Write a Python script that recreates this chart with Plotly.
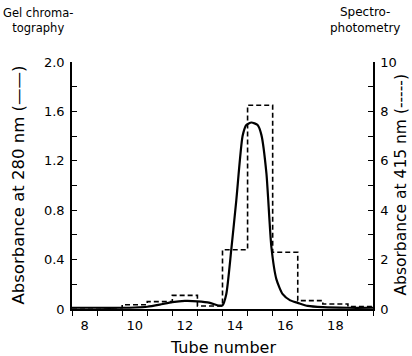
import plotly.graph_objects as go

# Gel chromatography, absorbance at 280 nm (solid curve, left axis)
tube_280 = [7.5, 8.5, 9.5, 10.0, 10.5, 11.0, 11.5, 12.0, 12.5, 13.0, 13.35, 13.5, 13.65,
            13.85, 14.05, 14.3, 14.45, 14.65, 14.9, 15.05, 15.25, 15.45, 15.65, 15.9,
            16.2, 16.5, 16.9, 17.5, 18.5, 19.5]
a280 = [0.01, 0.01, 0.01, 0.012, 0.018, 0.035, 0.055, 0.065, 0.062, 0.05, 0.028, 0.03, 0.12,
        0.48, 0.88, 1.40, 1.49, 1.51, 1.49, 1.41, 1.10, 0.50, 0.24, 0.12,
        0.07, 0.05, 0.025, 0.015, 0.01, 0.01]

# Spectrophotometry, absorbance at 415 nm per tube (dashed steps, right axis)
tubes_415 = [8, 9, 10, 11, 12, 13, 14, 15, 16, 17, 18, 19]
a415 = [0.05, 0.05, 0.17, 0.3, 0.55, 0.12, 2.4, 8.25, 2.3, 0.34, 0.2, 0.1]

x_ticks = [8, 10, 12, 14, 16, 18]
left_ticks = [0, 0.4, 0.8, 1.2, 1.6, 2.0]
left_labels = ["0", "0.4", "0.8", "1.2", "1.6", "2.0"]
right_ticks = [0, 2, 4, 6, 8, 10]

# build step edges from tube centers
edges = [t - 0.5 for t in tubes_415] + [tubes_415[-1] + 0.5]
step_vals = a415 + [a415[-1]]

FONT = "DejaVu Sans"

fig = go.Figure()
fig.add_trace(go.Scatter(x=edges, y=step_vals, mode="lines", yaxis="y2",
                         line=dict(color="black", width=1.6, dash="5px,3px", shape="hv"),
                         showlegend=False, hoverinfo="skip"))
fig.add_trace(go.Scatter(x=tube_280, y=a280, mode="lines",
                         line=dict(color="black", width=2.2, shape="spline", smoothing=0.6),
                         showlegend=False, hoverinfo="skip"))

fig.update_layout(
    width=412, height=356,
    margin=dict(l=72, r=39, t=62, b=47),
    paper_bgcolor="white", plot_bgcolor="white",
    font=dict(family=FONT, color="black", size=13),
    xaxis=dict(range=[7.5, 19.5], showgrid=False, zeroline=False,
               showline=True, linecolor="black", linewidth=1.5,
               tickmode="array", tickvals=x_ticks, ticktext=[str(v) for v in x_ticks],
               ticks="", tickfont=dict(size=13), ticklabelstandoff=4,
               minor=dict(tickmode="linear", tick0=7.5, dtick=1, ticks="outside",
                          ticklen=5, tickwidth=1.2, tickcolor="black")),
    yaxis=dict(range=[0, 2.0], showgrid=False, zeroline=False,
               showline=True, linecolor="black", linewidth=1.5,
               tickmode="array", tickvals=left_ticks, ticktext=left_labels,
               ticks="inside", ticklen=5, tickwidth=1.2, tickcolor="black",
               tickfont=dict(size=13), ticklabelstandoff=3,
               minor=dict(tickmode="linear", tick0=0, dtick=0.2, ticks="inside",
                          ticklen=5, tickwidth=1.2, tickcolor="black")),
    yaxis2=dict(range=[0, 10], overlaying="y", side="right", showgrid=False, zeroline=False,
                showline=True, linecolor="black", linewidth=1.5,
                tickmode="array", tickvals=right_ticks, ticktext=[str(v) for v in right_ticks],
                ticks="inside", ticklen=5, tickwidth=1.2, tickcolor="black",
                tickfont=dict(size=13), ticklabelstandoff=3,
                minor=dict(tickmode="linear", tick0=0, dtick=1, ticks="inside",
                           ticklen=5, tickwidth=1.2, tickcolor="black")),
)

annos = [
    dict(text="Tube number", x=0.5, y=0, xref="paper", yref="paper",
         yshift=-38, xanchor="center", yanchor="middle", font=dict(size=16)),
    dict(text="Absorbance at 280 nm (——)", x=0, y=0.5, xref="paper", yref="paper",
         xshift=-54, textangle=-90, xanchor="center", yanchor="middle", font=dict(size=16.5)),
    dict(text="Absorbance at 415 nm (-----)", x=1, y=0.5, xref="paper", yref="paper",
         xshift=27, textangle=-90, xanchor="center", yanchor="middle", font=dict(size=15.5)),
    dict(text="Gel chroma-<br>tography", x=0, y=1, xref="paper", yref="paper",
         xshift=-34, yshift=42, xanchor="center", yanchor="middle", align="center",
         font=dict(size=11.5)),
    dict(text="Spectro-<br>photometry", x=1, y=1, xref="paper", yref="paper",
         xshift=-8, yshift=42, xanchor="center", yanchor="middle", align="center",
         font=dict(size=12)),
]
for a in annos:
    fig.add_annotation(showarrow=False, **a)

fig.write_html("out.html", config={"displayModeBar": False},
               post_script="document.body.style.margin='0';")
